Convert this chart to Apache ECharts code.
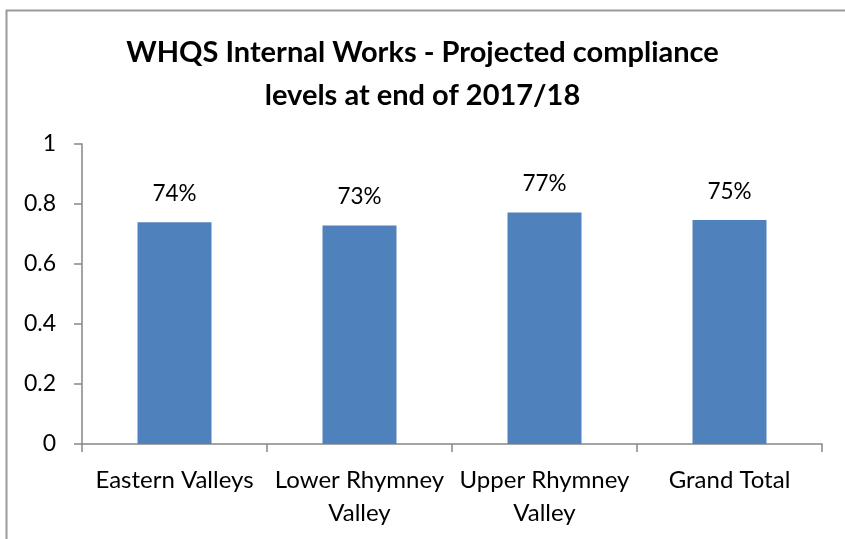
<!DOCTYPE html>
<html>
<head>
<meta charset="utf-8">
<script src="https://cdn.jsdelivr.net/npm/echarts@6/dist/echarts.min.js"></script>
<style>
html,body{margin:0;padding:0;background:#fff;}
#c{width:845px;height:539px;}
</style>
</head>
<body>
<div id="c"></div>
<script>
const titleText = "WHQS Internal Works - Projected compliance\nlevels at end of 2017/18";
const categories = ["Eastern Valleys", "Lower Rhymney\nValley", "Upper Rhymney\nValley", "Grand Total"];
const values = [0.739, 0.728, 0.772, 0.747];
const yTicks = { min: 0, max: 1, interval: 0.2 };

const chart = echarts.init(document.getElementById('c'), null, { renderer: 'canvas' });
const font = 'Lato, "Open Sans", sans-serif';
chart.setOption({
  animation: false,
  backgroundColor: '#ffffff',
  graphic: [{
    type: 'rect',
    shape: { x: 6.5, y: 10.5, width: 900, height: 600 },
    style: { fill: 'none', stroke: '#9a9a9a', lineWidth: 2 },
    silent: true
  }],
  title: {
    text: titleText,
    left: 'center',
    top: 26,
    textStyle: { fontFamily: font, fontWeight: 'bold', fontSize: 29, color: '#000', lineHeight: 43 }
  },
  grid: { left: 82, right: 23, top: 144, bottom: 95, containLabel: false },
  xAxis: {
    type: 'category',
    data: categories,
    boundaryGap: true,
    axisLine: { show: true, lineStyle: { color: '#868686', width: 1.5 } },
    axisTick: { show: true, alignWithLabel: false, length: 8, inside: false, lineStyle: { color: '#868686', width: 1.5 } },
    axisLabel: { margin: 20, interval: 0, color: '#000', fontFamily: font, fontSize: 24, lineHeight: 33 },
    splitLine: { show: false }
  },
  yAxis: {
    type: 'value',
    min: yTicks.min, max: yTicks.max, interval: yTicks.interval,
    axisLine: { show: true, lineStyle: { color: '#868686', width: 1.5 } },
    axisTick: { show: true, length: 8, inside: false, lineStyle: { color: '#868686', width: 1.5 } },
    axisLabel: { margin: 26, color: '#000', fontFamily: font, fontSize: 23 },
    splitLine: { show: false }
  },
  series: [{
    type: 'bar',
    data: values,
    barWidth: '40%',
    itemStyle: { color: '#4f81bd' },
    label: {
      show: true,
      position: 'top',
      distance: 17,
      color: '#000',
      fontFamily: font,
      fontSize: 22.5,
      formatter: p => Math.round(p.value * 100) + '%'
    }
  }]
});
</script>
</body>
</html>
